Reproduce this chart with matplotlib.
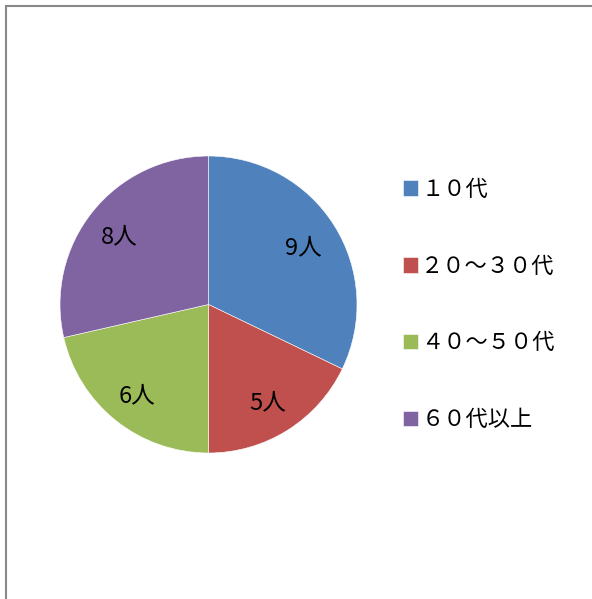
import matplotlib
matplotlib.use("Agg")
import matplotlib.pyplot as plt
from matplotlib.patches import Rectangle
from matplotlib.transforms import offset_copy

plt.rcParams['font.family'] = ['Noto Sans CJK JP', 'DejaVu Sans']

categories = ["１０代", "２０～３０代", "４０～５０代", "６０代以上"]
counts = [9, 5, 6, 8]
colors = ["#4F81BD", "#C0504D", "#9BBB59", "#8064A2"]

W, H = 592, 599
fig = plt.figure(figsize=(W / 100, H / 100), dpi=100)

# outer frame
fig.patches.append(Rectangle((5.5 / W, -0.05), 1.2, 1 - 6 / H + 0.05,
                             transform=fig.transFigure, fill=False,
                             edgecolor="#898989", linewidth=1.5))

cx, cy, r = 208.5, 304.5, 148.5
ax = fig.add_axes([(cx - r) / W, (H - cy - r) / H, 2 * r / W, 2 * r / H])

total = sum(counts)
wedges, texts, autotexts = ax.pie(
    counts, colors=colors, startangle=90, counterclock=False,
    autopct=lambda p: f"{round(p * total / 100)}人", pctdistance=0.76,
    wedgeprops=dict(edgecolor="white", linewidth=0.4),
    textprops=dict(fontsize=17, color="black"))
for t in autotexts:
    t.set_transform(offset_copy(ax.transData, fig=fig, x=-1, y=-3, units="dots"))
ax.set_xlim(-1, 1)
ax.set_ylim(-1, 1)
ax.set_aspect("equal")

fig.legend(wedges, categories, loc="upper left",
           bbox_to_anchor=(394 / W, 1 - 169 / H), frameon=False,
           fontsize=16, handlelength=0.68, handleheight=0.68,
           handletextpad=0.15, labelspacing=2.42, borderaxespad=0)

fig.savefig("out.png", dpi=100)
